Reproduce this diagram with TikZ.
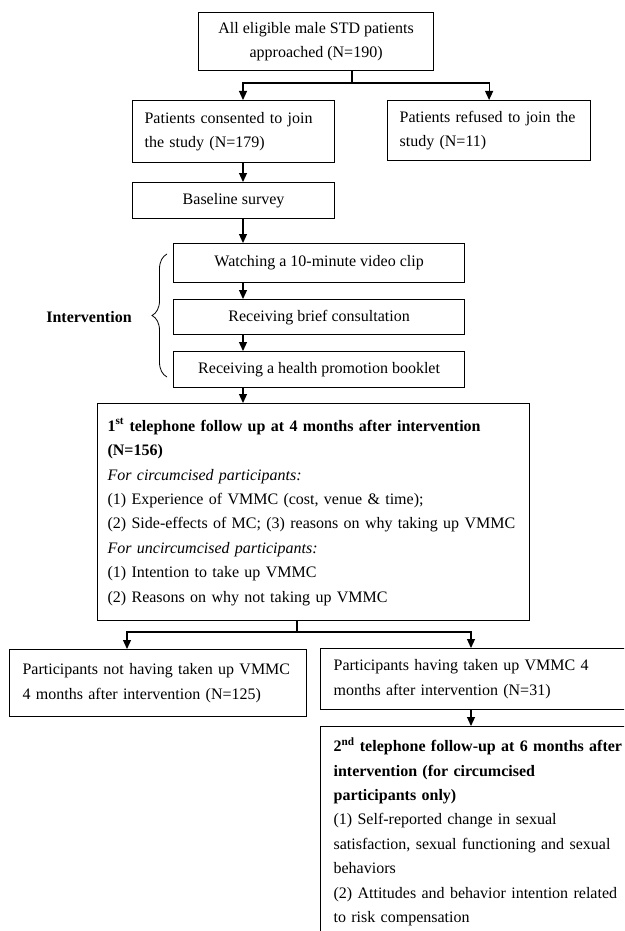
\documentclass[tikz,border=0pt]{standalone}
\usepackage{fontspec}
\setmainfont{Liberation Serif}
\usetikzlibrary{arrows.meta, decorations.pathreplacing}
\newcommand{\boxfont}{\fontsize{16pt}{24.4pt}\selectfont}

\begin{document}
\begin{tikzpicture}[
    x=1pt, y=-1pt,
    font=\boxfont,
    b/.style={draw, line width=1.2pt, inner ysep=0pt, anchor=north west},
    bl/.style={b, align=left, inner xsep=12pt},
    bc/.style={b, align=center},
    arr/.style={-{Triangle[width=8pt,length=9pt]}, line width=1.2pt},
    ln/.style={line width=1.2pt}
]
\useasboundingbox (0,0) rectangle (624,931);
\clip (0,0) rectangle (624,931);

\node[bc, minimum width=235pt, minimum height=58pt] (all) at (198,12) {All eligible male STD patients\\approached (N=190)};
\node[bl, text width=178pt, minimum height=62pt] (cons) at (132,100) {\makebox[\linewidth][s]{Patients consented to join}\\the study (N=179)};
\node[bl, text width=179pt, minimum height=60pt] (ref) at (387,100) {Patients refused to join the\\study (N=11)};
\node[bc, minimum width=202pt, minimum height=36pt] (base) at (132,182) {Baseline survey};

\node[bc, minimum width=291pt, minimum height=39pt] (watch) at (173,243) {Watching a 10-minute video clip};
\node[bc, minimum width=291pt, minimum height=35pt] (brief) at (173,299) {Receiving brief consultation};
\node[bc, minimum width=291pt, minimum height=36pt] (book) at (173,351) {Receiving a health promotion booklet};
\node[font=\boxfont\bfseries] (intv) at (89,317) {Intervention};
\draw[decorate, decoration={brace, amplitude=15pt}, line width=0.8pt] (167,377) -- (167,254);

\node[bl, inner xsep=10pt, text width=412pt, minimum height=217pt] (fu1) at (97,403) {\textbf{1\textsuperscript{st} telephone follow up at 4 months after intervention}\\
\textbf{(N=156)}\\
\textit{For circumcised participants:}\\
(1) Experience of VMMC (cost, venue \& time);\\
\mbox{(2) Side-effects of MC; (3) reasons on why taking up VMMC}\\
\textit{For uncircumcised participants:}\\
(1) Intention to take up VMMC\\
(2) Reasons on why not taking up VMMC};

\node[bl, inner xsep=13pt, text width=271pt, minimum height=67pt] (notv) at (9,649) {Participants not having taken up VMMC\\4 months after intervention (N=125)};
\node[bl, inner xsep=13pt, text width=280pt, minimum height=61pt] (took) at (320,648) {Participants having taken up VMMC 4\\months after intervention (N=31)};
\node[bl, inner xsep=13pt, inner ysep=11pt, text width=295pt] (fu2) at (320,726) {\textbf{2\textsuperscript{nd} telephone follow-up at 6 months after}\\
\textbf{intervention (for circumcised}\\
\textbf{participants only)}\\
(1) Self-reported change in sexual\\
satisfaction, sexual functioning and sexual\\
behaviors\\
(2) Attitudes and behavior intention related\\
to risk compensation};

\coordinate (j1) at (352,83);
\coordinate (sp) at (243,0);
\coordinate (j2) at (297,632);
\coordinate (sl) at (127,0);
\coordinate (sr) at (471,0);

\draw[ln] (all.south -| j1) -- (j1);
\draw[arr] (j1) -| (cons.north -| sp);
\draw[arr] (j1) -| (ref.north);
\draw[arr] (cons.south -| sp) -- (base.north -| sp);
\draw[arr] (base.south -| sp) -- (watch.north -| sp);
\draw[arr] (watch.south -| sp) -- (brief.north -| sp);
\draw[arr] (brief.south -| sp) -- (book.north -| sp);
\draw[arr] (book.south -| sp) -- (fu1.north -| sp);
\draw[ln] (fu1.south -| j2) -- (j2);
\draw[arr] (j2) -| (notv.north -| sl);
\draw[arr] (j2) -| (took.north -| sr);
\draw[arr] (took.south -| sr) -- (fu2.north -| sr);
\end{tikzpicture}
\end{document}
